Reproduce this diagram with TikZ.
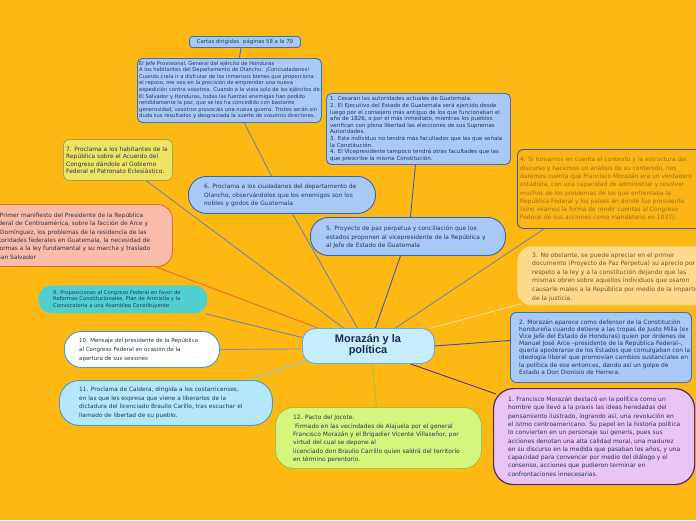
\documentclass[tikz,border=0pt]{standalone}
\usepackage{fontspec}
\setmainfont{DejaVu Sans}
\newfontfamily\titlefont{Liberation Sans}
\pgfdeclarelayer{bgl}
\pgfdeclarelayer{edges}
\pgfsetlayers{bgl,edges,main}
\definecolor{bgor}{HTML}{FDB813}
\definecolor{ink}{HTML}{263556}
\definecolor{cink}{HTML}{1A2A55}
\definecolor{lblue}{HTML}{A9CAF6}
\definecolor{lblueb}{HTML}{3C6CCB}
\definecolor{dblueb}{HTML}{2F62C4}
\definecolor{cfill}{HTML}{C9EEFB}
\definecolor{cbord}{HTML}{62AEDD}
\definecolor{ffour}{HTML}{FBB516}
\definecolor{dfour}{HTML}{3D5D8E}
\definecolor{tfour}{HTML}{93741A}
\definecolor{fthree}{HTML}{FFDA8C}
\definecolor{tthree}{HTML}{6B5A2E}
\definecolor{fone}{HTML}{EBC4F6}
\definecolor{done}{HTML}{4B2A6E}
\definecolor{ftwelve}{HTML}{D6F57C}
\definecolor{dtwelve}{HTML}{9CC43C}
\definecolor{feleven}{HTML}{B6E6FA}
\definecolor{deleven}{HTML}{3D9AE0}
\definecolor{fnine}{HTML}{4FCFD0}
\definecolor{feight}{HTML}{F9BCA8}
\definecolor{deight}{HTML}{F2662E}
\definecolor{fseven}{HTML}{EEE462}
\definecolor{dseven}{HTML}{A8A250}
\definecolor{eslate}{HTML}{6F88A8}
\definecolor{eorange}{HTML}{F0683A}
\definecolor{egray}{HTML}{8E94A6}
\definecolor{elight}{HTML}{86C6EA}
\definecolor{egreen}{HTML}{B4BE44}
\definecolor{epurple}{HTML}{5A2C84}
\definecolor{edblue}{HTML}{3454A4}
\definecolor{epale}{HTML}{FFDE96}
\definecolor{eblue}{HTML}{3A5CC2}
\tikzset{
  fs/.style 2 args={font=\fontsize{#1pt}{#2pt}\selectfont},
  box/.style={anchor=north west, inner sep=0pt, line width=0.9pt},
  txt/.style={anchor=west, align=left, inner sep=0pt, text=ink},
  conn/.style={line width=0.9pt},
}
\begin{document}
\begin{tikzpicture}[x=1pt,y=-1pt]
\useasboundingbox (0,0) rectangle (696,520);
\begin{pgfonlayer}{bgl}
\fill[bgor] (0,0) rectangle (696,520);
\end{pgfonlayer}
\begin{scope}
\clip (0,0) rectangle (696,520);
% boxes
\node[box, fill=lblue, draw=lblueb, rounded corners=3pt, minimum width=111pt, minimum height=11pt, text=ink, fs={5.4}{6}] (cartas) at (189,36) {Cartas dirigidas. páginas 58 a la 79};
\node[box, fill=lblue, draw=lblueb, rounded corners=5pt, minimum width=184pt, minimum height=64pt] (jefe) at (137,58) {};
\node[box, fill=lblue, draw=lblueb, rounded corners=5pt, minimum width=184pt, minimum height=71pt] (list) at (326,93) {};
\node[box, fill=ffour, draw=dfour, rounded corners=6pt, minimum width=200pt, minimum height=79pt] (b4) at (517,149) {};
\node[box, fill=fthree, rounded corners=14pt, minimum width=200pt, minimum height=59pt] (b3) at (517,246) {};
\node[box, fill=lblue, draw=lblueb, rounded corners=6pt, minimum width=181pt, minimum height=70pt] (b2) at (510,312) {};
\node[box, fill=fone, draw=done, line width=1.2pt, rounded corners=20pt, minimum width=201pt, minimum height=96pt] (b1) at (493,388) {};
\node[box, fill=ftwelve, draw=dtwelve, rounded corners=18pt, minimum width=206pt, minimum height=61pt] (b12) at (275,407) {};
\node[box, fill=feleven, draw=deleven, rounded corners=20pt, minimum width=213pt, minimum height=45pt] (b11) at (59,380) {};
\node[box, fill=white, draw=deleven, rounded corners=17pt, minimum width=155pt, minimum height=36pt] (b10) at (64,331) {};
\node[box, fill=fnine, rounded corners=13pt, minimum width=169pt, minimum height=28pt] (b9) at (38,285) {};
\node[box, fill=feight, draw=deight, rounded corners=15pt, minimum width=202pt, minimum height=62pt] (b8) at (-30,204) {};
\node[box, fill=fseven, draw=dseven, rounded corners=6pt, minimum width=109pt, minimum height=41pt] (b7) at (63,139) {};
\node[box, fill=lblue, draw=dblueb, rounded corners=18pt, minimum width=187pt, minimum height=37pt] (b6) at (188,176) {};
\node[box, fill=lblue, draw=dblueb, rounded corners=18pt, minimum width=195pt, minimum height=38pt] (b5) at (310,217) {};
\node[box, fill=cfill, draw=cbord, rounded corners=13pt, minimum width=132pt, minimum height=35pt] (c) at (302,328) {};
% texts
\node[txt, fs={5.2}{6.6}] (jefet) at (139,90) {El Jefe Provisional, General del ejército de Honduras\\A los habitantes del Departamento de Olancho: ¡Conciudadanos!\\Cuando creía ir a disfrutar de los inmensos bienes que proporciona\\el reposo, me veo en la precisión de emprender una nueva\\expedición contra vosotros. Cuando a la vista solo de los ejércitos de\\El Salvador y Honduras, todas las fuerzas enemigas han pedido\\rendidamente la paz, que se les ha concedido con bastante\\generosidad, vosotros provocáis una nueva guerra. Tristes serán sin\\duda sus resultados y desgraciada la suerte de vosotros directores.};
\node[txt, fs={5.5}{6.6}] (listt) at (330,129) {1. Cesarán las autoridades actuales de Guatemala.\\2. El Ejecutivo del Estado de Guatemala será ejercido desde\\luego por el consejero más antiguo de los que funcionaban el\\año de 1826, o por el más inmediato, mientras los pueblos\\verifican con plena libertad las elecciones de sus Supremas\\Autoridades.\\3. Este individuo no tendrá más facultades que las que señala\\la Constitución.\\4. El Vicepresidente tampoco tendrá otras facultades que las\\que prescribe la misma Constitución.};
\node[txt, text=tfour, fs={5.95}{8.3}] (b4t) at (520,189) {4. Si tomamos en cuenta el contexto y la estructura del\\discurso y hacemos un análisis de su contenido, nos\\daremos cuenta que Francisco Morazán era un verdadero\\estadista, con una capacidad de administrar y resolver\\muchos de los problemas de los que enfrentaba la\\República Federal y los países en donde fue presidente\\(sino veamos la forma de rendir cuentas al Congreso\\Federal de sus acciones como mandatario en 1837).};
\node[txt, text=tthree, fs={6.05}{8.6}] (b3t) at (532,277) {3. No obstante, se puede apreciar en el primer\\documento (Proyecto de Paz Perpetua) su aprecio por\\respeto a la ley y a la constitución dejando que las\\mismas obren sobre aquellos individuos que osaron\\causarle males a la República por medio de la impartición\\de la justicia.};
\node[txt, fs={5.95}{7.1}] (b2t) at (519,347) {2. Morazán aparece como defensor de la Constitución\\hondureña cuando detiene a las tropas de Justo Milla (ex\\Vice Jefe del Estado de Honduras) quien por órdenes de\\Manuel José Arce –presidente de la República Federal–,\\quería apoderarse de los Estados que comulgaban con la\\ideología liberal que promovían cambios sustanciales en\\la política de ese entonces, dando así un golpe de\\Estado a Don Dionisio de Herrera.};
\node[txt, fs={6.0}{8.3}] (b1t) at (508,436.5) {1. Francisco Morazán destacó en la política como un\\hombre que llevó a la praxis las ideas heredadas del\\pensamiento ilustrado, logrando así, una revolución en\\el istmo centroamericano. Su papel en la historia política\\lo convierten en un personaje sui generis, pues sus\\acciones denotan una alta calidad moral, una madurez\\en su discurso en la medida que pasaban los años, y una\\capacidad para convencer por medio del diálogo y el\\consenso, acciones que pudieron terminar en\\confrontaciones innecesarias.};
\node[txt, fs={5.95}{8.4}] (b12t) at (293,439) {12. Pacto del Jocote.\\\hspace*{2pt}Firmado en las vecindades de Alajuela por el general\\Francisco Morazán y el Brigadier Vicente Villaseñor, por\\virtud del cual se depone al\\licenciado don Braulio Carrillo quien saldrá del territorio\\en término perentorio.};
\node[txt, fs={5.85}{8.5}] (b11t) at (79,403) {11. Proclama de Caldera, dirigida a los costarricenses,\\en las que les expresa que viene a liberarlos de la\\dictadura del licenciado Braulio Carillo, tras escuchar el\\llamado de libertad de su pueblo.};
\node[txt, fs={5.5}{8.7}] (b10t) at (79,350) {10. Mensaje del presidente de la República\\al Congreso Federal en ocasión de la\\apertura de sus sesiones};
\node[txt, fs={5.2}{6.7}] (b9t) at (53,299.3) {9. Proposiciones al Congreso Federal en favor de\\Reformas Constitucionales, Plan de Amnistía y la\\Convocatoria a una Asamblea Constituyente};
\node[txt, fs={5.9}{8.4}] (b8t) at (-8.5,236) {8. Primer manifiesto del Presidente de la República\\Federal de Centroamérica, sobre la facción de Arce y\\\hspace*{8.5pt}Domínguez, los problemas de la residencia de las\\autoridades federales en Guatemala, la necesidad de\\reformas a la ley fundamental y su marcha y traslado\\a San Salvador};
\node[txt, fs={5.95}{7.6}] (b7t) at (66,160.3) {7. Proclama a los habitantes de la\\República sobre el Acuerdo del\\Congreso dándole al Gobierno\\Federal el Patronato Eclesiástico.};
\node[txt, fs={5.95}{8.6}] (b6t) at (204,195.7) {6. Proclama a los ciudadanos del departamento de\\Olancho, observándoles que los enemigos son los\\nobles y godos de Guatemala};
\node[txt, fs={5.95}{8.5}] (b5t) at (326,237.5) {5. Proyecto de paz perpetua y conciliación que los\\estados proponen al vicepresidente de la República y\\al Jefe de Estado de Guatemala};
\node[anchor=center, align=center, inner sep=0pt, text=cink, font=\titlefont\bfseries\fontsize{11}{11}\selectfont] (ct) at (368,345.5) {Morazán y la\\política};
\end{scope}
\begin{pgfonlayer}{edges}
\draw[conn, lblueb] ([xshift=-4pt]cartas.south) -- ([xshift=10pt]jefe.north);
\draw[conn, eslate] ([xshift=15pt]jefe.south) -- ([xshift=-10.5pt]b6.north);
\draw[conn, eblue] ([xshift=-3pt]list.south) -- ([xshift=2.5pt]b5.north);
\draw[conn, eslate] ([xshift=10.5pt]b6.south) -- ([xshift=-11pt]c.north);
\draw[conn, eslate] ([xshift=28.5pt]b7.south) -- ([xshift=-25pt]c.north);
\draw[conn, eorange] ([xshift=84.5pt]b8.south) -- ([xshift=16pt]c.north west);
\draw[conn, eslate] ([xshift=-2pt]b9.south east) -- ([yshift=8.5pt]c.west);
\draw[conn, egray] (b10.east) -- ([yshift=-3pt]c.west);
\draw[conn, elight] ([xshift=82.5pt]b11.north) -- ([xshift=4pt,yshift=3pt]c.south west);
\draw[conn, egreen] ([xshift=-2pt]b12.north) -- ([xshift=4pt]c.south);
\draw[conn, epurple] ([xshift=3pt,yshift=-6pt]b1.north west) -- ([xshift=42pt]c.south);
\draw[conn, edblue] ([yshift=7pt]b2.west) -- (c.east);
\draw[conn, epale] ([xshift=4pt,yshift=2pt]b3.south west) -- ([xshift=-4pt]c.north east);
\draw[conn, eslate] ([xshift=27pt]b4.south west) -- ([xshift=27pt]c.north);
\draw[conn, eblue] ([xshift=-7.5pt]b5.south) -- ([xshift=7pt]c.north);
\end{pgfonlayer}
\end{tikzpicture}
\end{document}
